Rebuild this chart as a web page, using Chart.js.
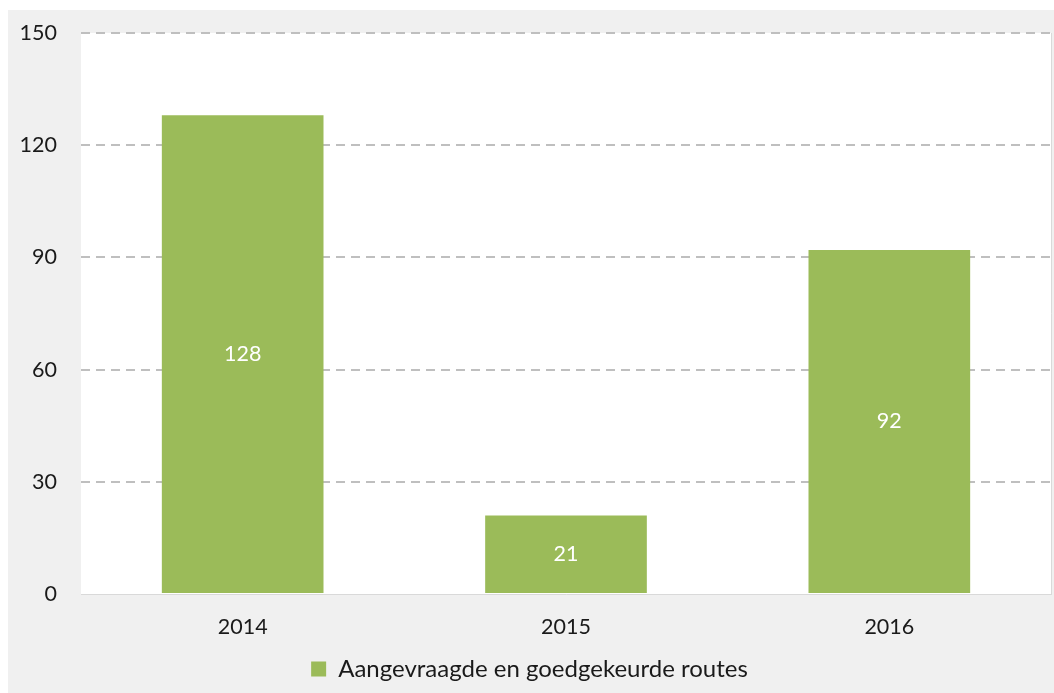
<!DOCTYPE html>
<html>
<head>
<meta charset="utf-8">
<script src="https://cdn.jsdelivr.net/npm/chart.js@4/dist/chart.umd.min.js"></script>
<style>
  html, body { margin: 0; padding: 0; background: #ffffff; }
  #wrap { position: absolute; left: 8px; top: 10px; width: 1046px; height: 683px; background: #f0f0f0; }
  canvas { display: block; }
</style>
</head>
<body>
<div id="wrap"><canvas id="c" width="1046" height="683"></canvas></div>
<script>
const categories = ['2014', '2015', '2016'];
const seriesName = 'Aangevraagde en goedgekeurde routes';
const values = [128, 21, 92];
const yTicks = [0, 30, 60, 90, 120, 150];

const FONT = 'Lato, "Open Sans", sans-serif';

const plotBg = {
  id: 'plotBg',
  beforeDraw(chart) {
    const { ctx, chartArea: a } = chart;
    ctx.save();
    ctx.fillStyle = '#ffffff';
    ctx.fillRect(a.left, a.top, a.right - a.left, a.bottom - a.top);
    ctx.strokeStyle = '#d9d9d9';
    ctx.lineWidth = 1;
    ctx.beginPath();
    ctx.moveTo(a.right + 0.5, a.top);
    ctx.lineTo(a.right + 0.5, a.bottom);
    ctx.stroke();
    ctx.restore();
  }
};

const valueLabels = {
  id: 'valueLabels',
  afterDatasetsDraw(chart) {
    const { ctx } = chart;
    const meta = chart.getDatasetMeta(0);
    ctx.save();
    ctx.fillStyle = '#ffffff';
    ctx.font = '21.5px ' + FONT;
    ctx.textAlign = 'center';
    ctx.textBaseline = 'middle';
    meta.data.forEach((bar, i) => {
      const v = chart.data.datasets[0].data[i];
      ctx.fillText(String(v), bar.x, (bar.y + bar.base) / 2);
    });
    ctx.restore();
  }
};

new Chart(document.getElementById('c'), {
  type: 'bar',
  data: {
    labels: categories,
    datasets: [{
      label: seriesName,
      data: values,
      backgroundColor: '#9bbb59',
      borderWidth: 0,
      categoryPercentage: 1.0,
      barPercentage: 0.5
    }]
  },
  options: {
    responsive: false,
    animation: false,
    devicePixelRatio: 1,
    layout: { padding: { top: 23, right: 3, bottom: 2, left: 0 } },
    plugins: {
      legend: {
        position: 'bottom',
        labels: {
          boxWidth: 15,
          boxHeight: 15,
          padding: 7,
          color: '#1a1a1a',
          font: { family: FONT, size: 24 }
        }
      },
      tooltip: { enabled: false }
    },
    scales: {
      x: {
        grid: { display: false, drawTicks: false },
        border: { display: true, color: '#d9d9d9', width: 1 },
        ticks: { color: '#1a1a1a', font: { family: FONT, size: 21.5 }, padding: 20 },
        afterFit(s) { s.height = 56; s.paddingLeft = 0; s.paddingRight = 0; }
      },
      y: {
        min: 0,
        max: 150,
        afterBuildTicks(s) { s.ticks = yTicks.map(v => ({ value: v })); },
        grid: {
          drawTicks: false,
          color: (c) => (c.tick && c.tick.value === 0) ? 'rgba(0,0,0,0)' : '#bfbfbf',
          lineWidth: 2
        },
        border: { display: false, dash: [9, 6] },
        ticks: { color: '#1a1a1a', font: { family: FONT, size: 21.5 }, padding: 24 },
        afterFit(s) { s.width = 73; s.paddingTop = 0; s.paddingBottom = 0; }
      }
    }
  },
  plugins: [plotBg, valueLabels]
});
</script>
</body>
</html>
